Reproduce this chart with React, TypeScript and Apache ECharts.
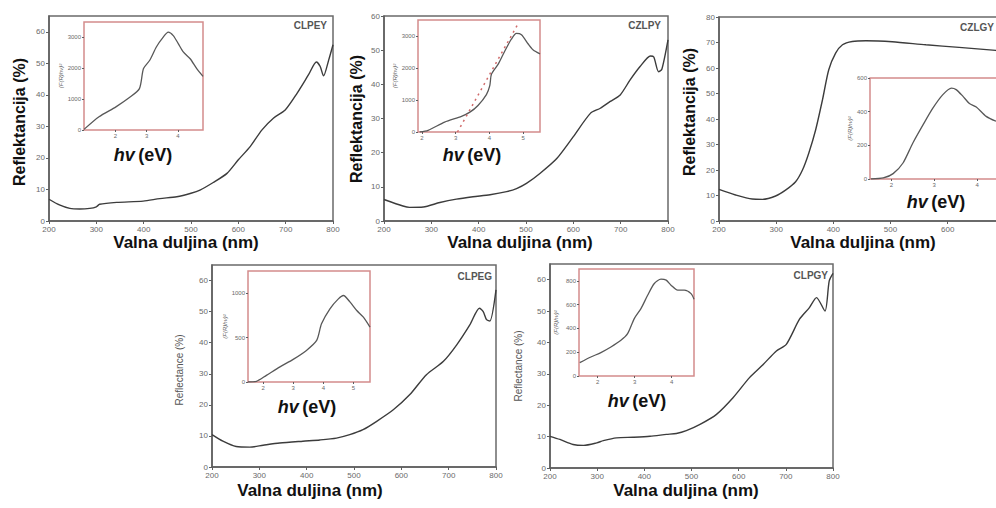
import React, { useEffect, useRef } from "react";
import * as echarts from "echarts";

// ---- main panels: wavelength (nm) vs reflectance (%) ----
const p1Nm = [200, 222, 244, 265, 286, 300, 307, 343, 399, 434, 470, 500, 519, 547, 576, 600, 625, 650, 674, 699, 724, 748, 765, 773, 780, 791, 800];
const p1R = [6.9, 5.1, 4.0, 3.8, 4.0, 4.5, 5.3, 5.9, 6.3, 7.1, 7.7, 8.8, 9.8, 12.2, 15.1, 19.4, 23.6, 28.9, 32.6, 35.2, 40.5, 46.3, 50.4, 49, 46, 51.1, 55.9];

const p2Nm = [200, 240, 254, 283, 318, 353, 388, 424, 459, 480, 501, 530, 565, 600, 636, 657, 678, 699, 720, 741, 763, 770, 780, 787, 800];
const p2R = [6.3, 4.4, 4.0, 4.1, 5.4, 6.4, 7.1, 7.7, 8.6, 9.5, 11.0, 14, 18.3, 24.7, 31.5, 33, 35, 36.9, 41.3, 45.2, 48.3, 48, 43.7, 44.4, 53];

const p3Nm = [200, 229, 258, 276, 299, 317, 334, 346, 357, 369, 381, 392, 404, 416, 433, 457, 503, 562, 620, 684, 700];
const p3R = [12.4, 10.2, 8.6, 8.5, 9.8, 12.2, 15.4, 20, 26.6, 35.7, 47.5, 59.3, 65.8, 69.1, 70.4, 70.7, 70.3, 69.1, 68.1, 66.9, 66.7];

const p4Nm = [200, 223, 251, 280, 308, 343, 392, 428, 463, 491, 519, 548, 583, 618, 653, 689, 717, 745, 765, 773, 780, 787, 800];
const p4R = [10.4, 8.3, 6.6, 6.4, 7.0, 7.7, 8.3, 8.7, 9.3, 10.4, 12.0, 14.7, 18.4, 23.3, 29.7, 34, 39.3, 45.8, 51.1, 50, 47.4, 47, 57];

const p5Nm = [200, 221, 249, 271, 299, 313, 341, 376, 412, 447, 468, 489, 518, 553, 588, 623, 652, 680, 701, 729, 750, 765, 783, 792, 800];
const p5R = [10.1, 9.1, 7.5, 7.2, 8.0, 8.7, 9.6, 9.8, 10.1, 10.7, 11.0, 11.9, 13.9, 17.1, 22.4, 28.8, 33, 37.3, 39.4, 47.4, 51.1, 54.3, 50, 59.6, 62];

// ---- insets: hv (eV) vs (F(R)hv)^2 ----
const i1Ev = [1.0, 1.48, 2.02, 2.45, 2.77, 2.9, 3.1, 3.31, 3.53, 3.69, 3.85, 4.01, 4.17, 4.39, 4.6, 4.8];
const i1F = [20, 430, 750, 1050, 1340, 1990, 2260, 2690, 3010, 3170, 3060, 2800, 2530, 2310, 1990, 1740];

const i2Ev = [1.93, 2.18, 2.67, 3.17, 3.42, 3.66, 3.91, 4.01, 4.06, 4.26, 4.46, 4.65, 4.8, 4.95, 5.15, 5.3, 5.5];
const i2F = [0, 50, 310, 490, 620, 830, 1170, 1450, 1810, 2120, 2540, 2900, 3080, 3040, 2750, 2560, 2440];
const i2TangentEv = [3.05, 4.82];
const i2TangentF = [0, 3330];

const i3Ev = [1.52, 1.81, 2.04, 2.27, 2.5, 2.74, 2.97, 3.2, 3.4, 3.51, 3.67, 3.82, 3.98, 4.21, 4.44];
const i3F = [0, 6, 32, 95, 214, 323, 422, 501, 540, 531, 491, 448, 428, 372, 343];

const i4Ev = [1.5, 1.78, 2.11, 2.56, 3.0, 3.44, 3.78, 3.94, 4.22, 4.5, 4.67, 4.89, 5.11, 5.33, 5.55];
const i4F = [0, 7, 75, 170, 255, 356, 468, 655, 824, 936, 974, 899, 805, 730, 618];

const i5Ev = [1.52, 1.82, 2.09, 2.36, 2.63, 2.81, 2.99, 3.17, 3.35, 3.53, 3.71, 3.85, 3.98, 4.16, 4.34, 4.52, 4.6];
const i5F = [112, 160, 197, 244, 300, 356, 483, 567, 679, 778, 814, 806, 764, 722, 722, 693, 646];

// ---- tick labels ----
const nmTicks = [200, 300, 400, 500, 600, 700, 800];
const nmTicksVisible = [200, 300, 400, 500, 600];
const rTicks60 = [0, 10, 20, 30, 40, 50, 60];
const rTicks80 = [0, 10, 20, 30, 40, 50, 60, 70, 80];
const evTicks234 = [2, 3, 4];
const evTicks2345 = [2, 3, 4, 5];
const fTicks3000 = [0, 1000, 2000, 3000];
const fTicks600 = [0, 200, 400, 600];
const fTicks1000 = [0, 500, 1000];
const fTicks800 = [0, 200, 400, 600, 800];

const panelNames = ["CLPEY", "CZLPY", "CZLGY", "CLPEG", "CLPGY"];

const FONT = "Liberation Sans, Arial, sans-serif";

const zip = (a: number[], b: number[]) => a.map((v, i) => [v, b[i]]);
const plain = (v: number) => String(v);

function buildOption() {
  const mainGrids = [
    { left: 49, top: 16, width: 284, height: 205 },
    { left: 384, top: 16, width: 284, height: 205 },
    { left: 719, top: 17, width: 343, height: 204 },
    { left: 212, top: 265, width: 284, height: 202 },
    { left: 550, top: 264, width: 283, height: 204 },
  ];
  const insetGrids = [
    { left: 84, top: 22, width: 119, height: 108 },
    { left: 418, top: 20, width: 122, height: 112 },
    { left: 870, top: 78, width: 150, height: 101 },
    { left: 248, top: 271, width: 122, height: 111 },
    { left: 579, top: 269, width: 115, height: 107 },
  ];
  const mainXTicks = [nmTicks, nmTicks, nmTicksVisible, nmTicks, nmTicks];
  const mainYMax = [65, 60, 80, 65, 65];
  const mainYTicks = [rTicks60, rTicks60, rTicks80, rTicks60, rTicks60];
  const mainData = [zip(p1Nm, p1R), zip(p2Nm, p2R), zip(p3Nm, p3R), zip(p4Nm, p4R), zip(p5Nm, p5R)];

  const insetX = [[1.0, 4.8], [1.88, 5.5], [1.5, 5], [1.5, 5.55], [1.5, 4.6]];
  const insetYMax = [3500, 3500, 600, 1250, 900];
  const insetXTicks = [evTicks234, evTicks2345, evTicks234, evTicks2345, evTicks234];
  const insetYTicks = [fTicks3000, fTicks3000, fTicks600, fTicks1000, fTicks800];
  const insetData = [zip(i1Ev, i1F), zip(i2Ev, i2F), zip(i3Ev, i3F), zip(i4Ev, i4F), zip(i5Ev, i5F)];

  const grid: any[] = [];
  const xAxis: any[] = [];
  const yAxis: any[] = [];
  const series: any[] = [];

  const axisGrey = "#5e5e5e";
  const labelGrey = "#6a6a6a";

  mainGrids.forEach((g, i) => {
    grid.push({ ...g, show: true, borderColor: "#6a6a6a", borderWidth: 1.5, backgroundColor: "transparent", containLabel: false, outerBoundsMode: "none" });
    xAxis.push({
      type: "value", gridIndex: i, min: 200, max: 800,
      axisLine: { show: true, onZero: false, lineStyle: { color: axisGrey, width: 1.5 } },
      axisTick: { show: true, customValues: mainXTicks[i], length: 3, lineStyle: { color: axisGrey, width: 1 } },
      axisLabel: { customValues: mainXTicks[i], formatter: plain, fontSize: 8, color: labelGrey, margin: 4, fontFamily: FONT },
      splitLine: { show: false },
    });
    yAxis.push({
      type: "value", gridIndex: i, min: 0, max: mainYMax[i],
      axisLine: { show: true, onZero: false, lineStyle: { color: axisGrey, width: 1.5 } },
      axisTick: { show: true, customValues: mainYTicks[i], length: 3, lineStyle: { color: axisGrey, width: 1 } },
      axisLabel: { customValues: mainYTicks[i], formatter: plain, fontSize: 8, color: labelGrey, margin: 4, fontFamily: FONT },
      splitLine: { show: false },
    });
    series.push({
      type: "line", xAxisIndex: i, yAxisIndex: i, data: mainData[i], showSymbol: false, smooth: 0.25,
      lineStyle: { color: "#3c3c3c", width: 1.4 }, z: 3,
    });
  });

  insetGrids.forEach((g, k) => {
    const idx = 5 + k;
    grid.push({ ...g, show: true, borderColor: "#d48c8c", borderWidth: 1.5, backgroundColor: "transparent", containLabel: false, outerBoundsMode: "none" });
    xAxis.push({
      type: "value", gridIndex: idx, min: insetX[k][0], max: insetX[k][1],
      axisLine: { show: false, onZero: false },
      axisTick: { show: true, customValues: insetXTicks[k], length: 2, lineStyle: { color: axisGrey, width: 1 } },
      axisLabel: { customValues: insetXTicks[k], formatter: plain, fontSize: 6, color: labelGrey, margin: 3, fontFamily: FONT },
      splitLine: { show: false },
    });
    yAxis.push({
      type: "value", gridIndex: idx, min: 0, max: insetYMax[k],
      name: "(F(R)hν)²", nameLocation: "middle", nameGap: k === 2 ? 16 : 20, nameRotate: 90,
      nameTextStyle: { fontSize: 6, color: labelGrey, fontStyle: "italic", fontFamily: FONT },
      axisLine: { show: false, onZero: false },
      axisTick: { show: true, customValues: insetYTicks[k], length: 2, lineStyle: { color: axisGrey, width: 1 } },
      axisLabel: { customValues: insetYTicks[k], formatter: plain, fontSize: 6, color: labelGrey, margin: 3, fontFamily: FONT },
      splitLine: { show: false },
    });
    series.push({
      type: "line", xAxisIndex: idx, yAxisIndex: idx, data: insetData[k], showSymbol: false, smooth: 0.25,
      lineStyle: { color: "#585858", width: 1.3 }, z: 3,
    });
  });

  // Tauc tangent in inset 2
  series.push({
    type: "line", xAxisIndex: 6, yAxisIndex: 6, data: zip(i2TangentEv, i2TangentF), showSymbol: false,
    lineStyle: { color: "#d06a6a", width: 1.5, type: [2, 4] }, z: 4,
  });

  const bigLabel = { fontSize: 17, fontWeight: "bold", fill: "#111", fontFamily: FONT, align: "center", verticalAlign: "middle" };
  const xNamePos = [[186, 242], [520, 242], [863, 242], [310, 490], [686, 490]];
  const yNamePos = [[19, 122], [356, 119], [689, 112]];
  const smallYNamePos = [[179, 370], [518, 366]];
  const titlePos: [number, number, string][] = [[327, 25, "right"], [661, 25, "right"], [994, 27, "right"], [492, 276, "right"], [828, 275, "right"]];
  const hvPos = [[143, 155], [472, 155], [936, 202], [307, 407], [637, 401]];

  const graphic: any[] = [];
  xNamePos.forEach(([x, y]) => graphic.push({ type: "text", x, y, style: { ...bigLabel, text: "Valna duljina (nm)" } }));
  yNamePos.forEach(([x, y]) => graphic.push({ type: "text", x, y, rotation: Math.PI / 2, style: { ...bigLabel, fontSize: 16, text: "Reflektancija (%)" } }));
  smallYNamePos.forEach(([x, y]) => graphic.push({ type: "text", x, y, rotation: Math.PI / 2, style: { text: "Reflectance (%)", fontSize: 10, fill: "#555", fontFamily: FONT, align: "center", verticalAlign: "middle" } }));
  titlePos.forEach(([x, y, al], i) => graphic.push({ type: "text", x, y, style: { text: panelNames[i], fontSize: 10, fontWeight: "bold", fill: "#555", fontFamily: FONT, align: al, verticalAlign: "middle" } }));
  hvPos.forEach(([x, y]) => graphic.push({
    type: "text", x, y,
    style: {
      text: "{i|hv} {b|(eV)}", align: "center", verticalAlign: "middle", fontFamily: FONT,
      rich: {
        i: { fontSize: 18, fontWeight: "bold", fontStyle: "italic", fill: "#111", fontFamily: FONT },
        b: { fontSize: 18, fontWeight: "bold", fill: "#111", fontFamily: FONT },
      },
    },
  }));

  return { animation: false, backgroundColor: "#fff", grid, xAxis, yAxis, series, graphic };
}

export default function App() {
  const ref = useRef<HTMLDivElement>(null);
  useEffect(() => {
    document.body.style.margin = "0";
    const chart = echarts.init(ref.current!, null, { renderer: "svg" });
    chart.setOption(buildOption() as any);
    return () => chart.dispose();
  }, []);
  return <div ref={ref} style={{ width: 996, height: 508, position: "absolute", left: 0, top: 0, background: "#fff" }} />;
}
